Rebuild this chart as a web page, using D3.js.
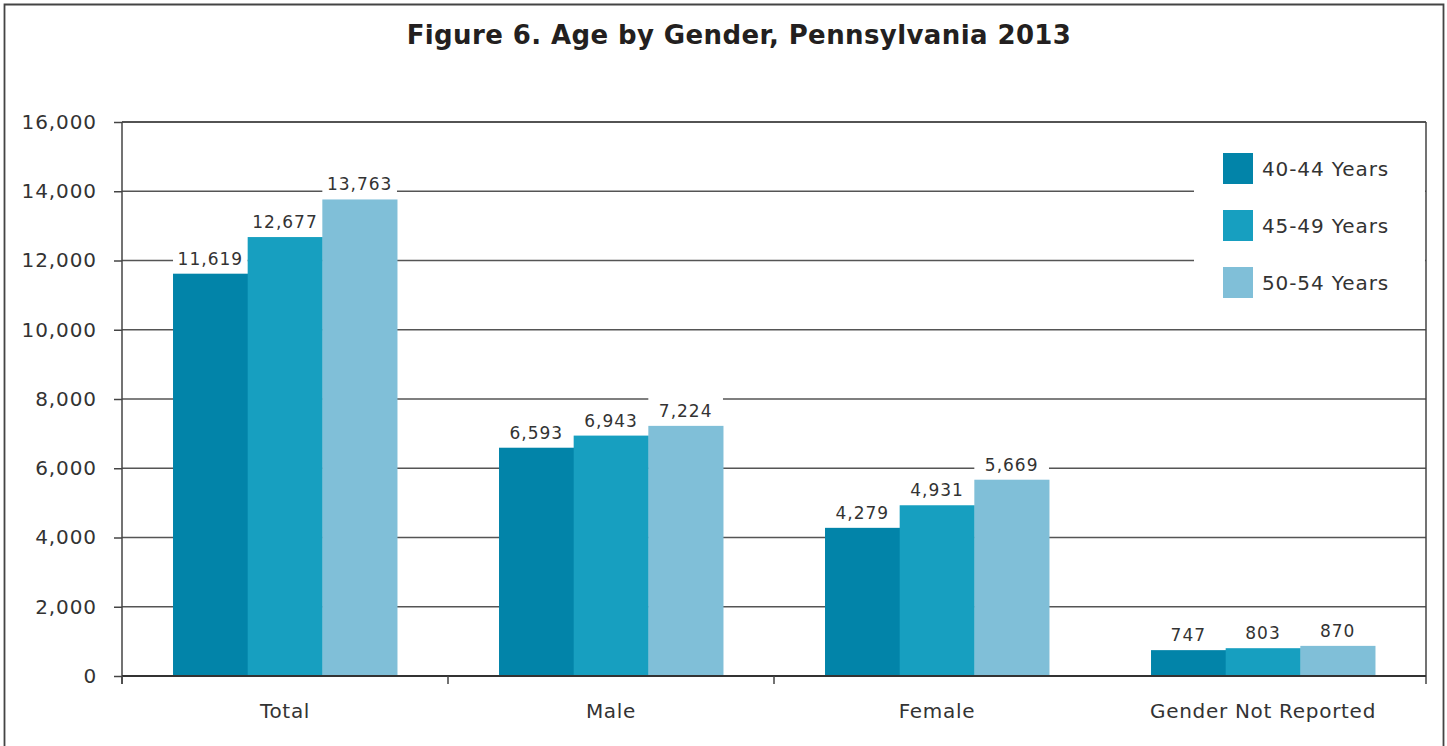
<!DOCTYPE html>
<html>
<head>
<meta charset="utf-8">
<script src="https://cdn.jsdelivr.net/npm/d3@7"></script>
<style>
  body { margin: 0; background: #fff; }
  svg { display: block; font-family: "DejaVu Sans", Verdana, sans-serif; }
</style>
</head>
<body>
<div id="container"></div>
<script>
/* DATA */
const categories = ['Total', 'Male', 'Female', 'Gender Not Reported'];
const series = ['40-44 Years', '45-49 Years', '50-54 Years'];
const values4044 = [11619, 6593, 4279, 747];
const values4549 = [12677, 6943, 4931, 803];
const values5054 = [13763, 7224, 5669, 870];
const yTicks = [0, 2000, 4000, 6000, 8000, 10000, 12000, 14000, 16000];
const colors = ['#0284a9', '#179fc0', '#80bfd8'];

const width = 1447;
const height = 746;
const plot = { left: 122, right: 1426, top: 122, bottom: 676 };

const rows = categories.map((c, i) => ({
  category: c,
  vals: [values4044[i], values4549[i], values5054[i]]
}));

/* SCALES */
const xScale = d3.scaleBand()
  .domain(categories)
  .range([plot.left, plot.right])
  .paddingInner(0.313)
  .paddingOuter(0.1565);

const xSub = d3.scaleBand()
  .domain(series)
  .range([0, xScale.bandwidth()]);

const yScale = d3.scaleLinear()
  .domain([0, 16000])
  .range([plot.bottom, plot.top]);

const color = d3.scaleOrdinal().domain(series).range(colors);

/* SVG */
const svg = d3.select('#container')
  .append('svg')
  .attr('width', width)
  .attr('height', height);

// outer frame (bottom edge is off the picture)
svg.append('path')
  .attr('d', `M4.5,${height + 5}V4.5H1443.5V${height + 5}`)
  .attr('fill', 'none')
  .attr('stroke', '#444')
  .attr('stroke-width', 1.8);

svg.append('text')
  .attr('x', 739)
  .attr('y', 44)
  .attr('text-anchor', 'middle')
  .attr('font-size', 26)
  .attr('letter-spacing', 0.4)
  .attr('font-weight', 'bold')
  .attr('fill', '#231f20')
  .text('Figure 6. Age by Gender, Pennsylvania 2013');

// gridlines
svg.append('g')
  .selectAll('line')
  .data(yTicks.filter(d => d > 0))
  .join('line')
  .attr('x1', plot.left)
  .attr('x2', plot.right)
  .attr('y1', d => yScale(d))
  .attr('y2', d => yScale(d))
  .attr('stroke', '#555')
  .attr('stroke-width', 1.5);

// legend area hides grid
svg.append('rect')
  .attr('x', 1194)
  .attr('y', plot.top + 1)
  .attr('width', plot.right - 1194 - 1)
  .attr('height', 185)
  .attr('fill', '#fff');

// bars
const groups = svg.append('g')
  .selectAll('g')
  .data(rows)
  .join('g')
  .attr('transform', d => `translate(${xScale(d.category)},0)`);

const cells = groups.selectAll('g')
  .data(d => d.vals.map((v, i) => ({ key: series[i], value: v })))
  .join('g');

// white boxes behind value labels
cells.append('rect')
  .attr('x', d => xSub(d.key))
  .attr('y', d => yScale(d.value) - 30)
  .attr('width', xSub.bandwidth())
  .attr('height', 30)
  .attr('fill', '#fff');

cells.append('rect')
  .attr('x', d => xSub(d.key))
  .attr('y', d => yScale(d.value))
  .attr('width', xSub.bandwidth() + 0.5)
  .attr('height', d => yScale(0) - yScale(d.value))
  .attr('fill', d => color(d.key));

cells.append('text')
  .attr('x', d => xSub(d.key) + xSub.bandwidth() / 2)
  .attr('y', d => yScale(d.value) - 9)
  .attr('text-anchor', 'middle')
  .attr('font-size', 17)
  .attr('letter-spacing', 1)
  .attr('fill', '#333')
  .text(d => d3.format(',')(d.value));

// plot frame
svg.append('line')
  .attr('x1', plot.left).attr('x2', plot.right)
  .attr('y1', plot.top).attr('y2', plot.top)
  .attr('stroke', '#444').attr('stroke-width', 1.5);
svg.append('line')
  .attr('x1', plot.right).attr('x2', plot.right)
  .attr('y1', plot.top).attr('y2', plot.bottom + 8)
  .attr('stroke', '#444').attr('stroke-width', 1.5);

// y axis
const yAxis = d3.axisLeft(yScale)
  .tickValues(yTicks)
  .tickSize(8)
  .tickPadding(17)
  .tickFormat(d3.format(','));

svg.append('g')
  .attr('transform', `translate(${plot.left},0)`)
  .call(yAxis)
  .call(g => g.select('.domain').remove())
  .call(g => g.selectAll('line').attr('stroke', '#444').attr('stroke-width', 1.5))
  .call(g => g.selectAll('text')
    .attr('font-size', 20)
    .attr('letter-spacing', 0.9)
    .attr('font-family', '"DejaVu Sans", Verdana, sans-serif')
    .attr('fill', '#333'));

svg.append('line')
  .attr('x1', plot.left).attr('x2', plot.left)
  .attr('y1', plot.top).attr('y2', plot.bottom + 8)
  .attr('stroke', '#444').attr('stroke-width', 1.5);

// x axis
const xAxis = d3.axisBottom(xScale).tickSize(0).tickPadding(28);
svg.append('g')
  .attr('transform', `translate(0,${plot.bottom})`)
  .call(xAxis)
  .call(g => g.select('.domain').remove())
  .call(g => g.selectAll('text')
    .attr('font-size', 20)
    .attr('letter-spacing', 0.7)
    .attr('font-family', '"DejaVu Sans", Verdana, sans-serif')
    .attr('fill', '#333'));

svg.append('line')
  .attr('x1', plot.left).attr('x2', plot.right)
  .attr('y1', plot.bottom).attr('y2', plot.bottom)
  .attr('stroke', '#333').attr('stroke-width', 2);

// x boundary ticks
const step = xScale.step();
const boundaries = categories.slice(0, 3).map(c => xScale(c) - step * xScale.paddingInner() / 2);
boundaries[0] = plot.left;
svg.append('g')
  .selectAll('line')
  .data(boundaries)
  .join('line')
  .attr('x1', d => d).attr('x2', d => d)
  .attr('y1', plot.bottom).attr('y2', plot.bottom + 8)
  .attr('stroke', '#444').attr('stroke-width', 1.5);

// legend
const legend = svg.append('g')
  .selectAll('g')
  .data(series)
  .join('g')
  .attr('transform', (d, i) => `translate(1223,${153 + i * 57})`);

legend.append('rect')
  .attr('width', 30)
  .attr('height', 31)
  .attr('fill', d => color(d));

legend.append('text')
  .attr('x', 39)
  .attr('y', 23)
  .attr('font-size', 20)
  .attr('letter-spacing', 0.9)
  .attr('fill', '#333')
  .text(d => d);
</script>
</body>
</html>
